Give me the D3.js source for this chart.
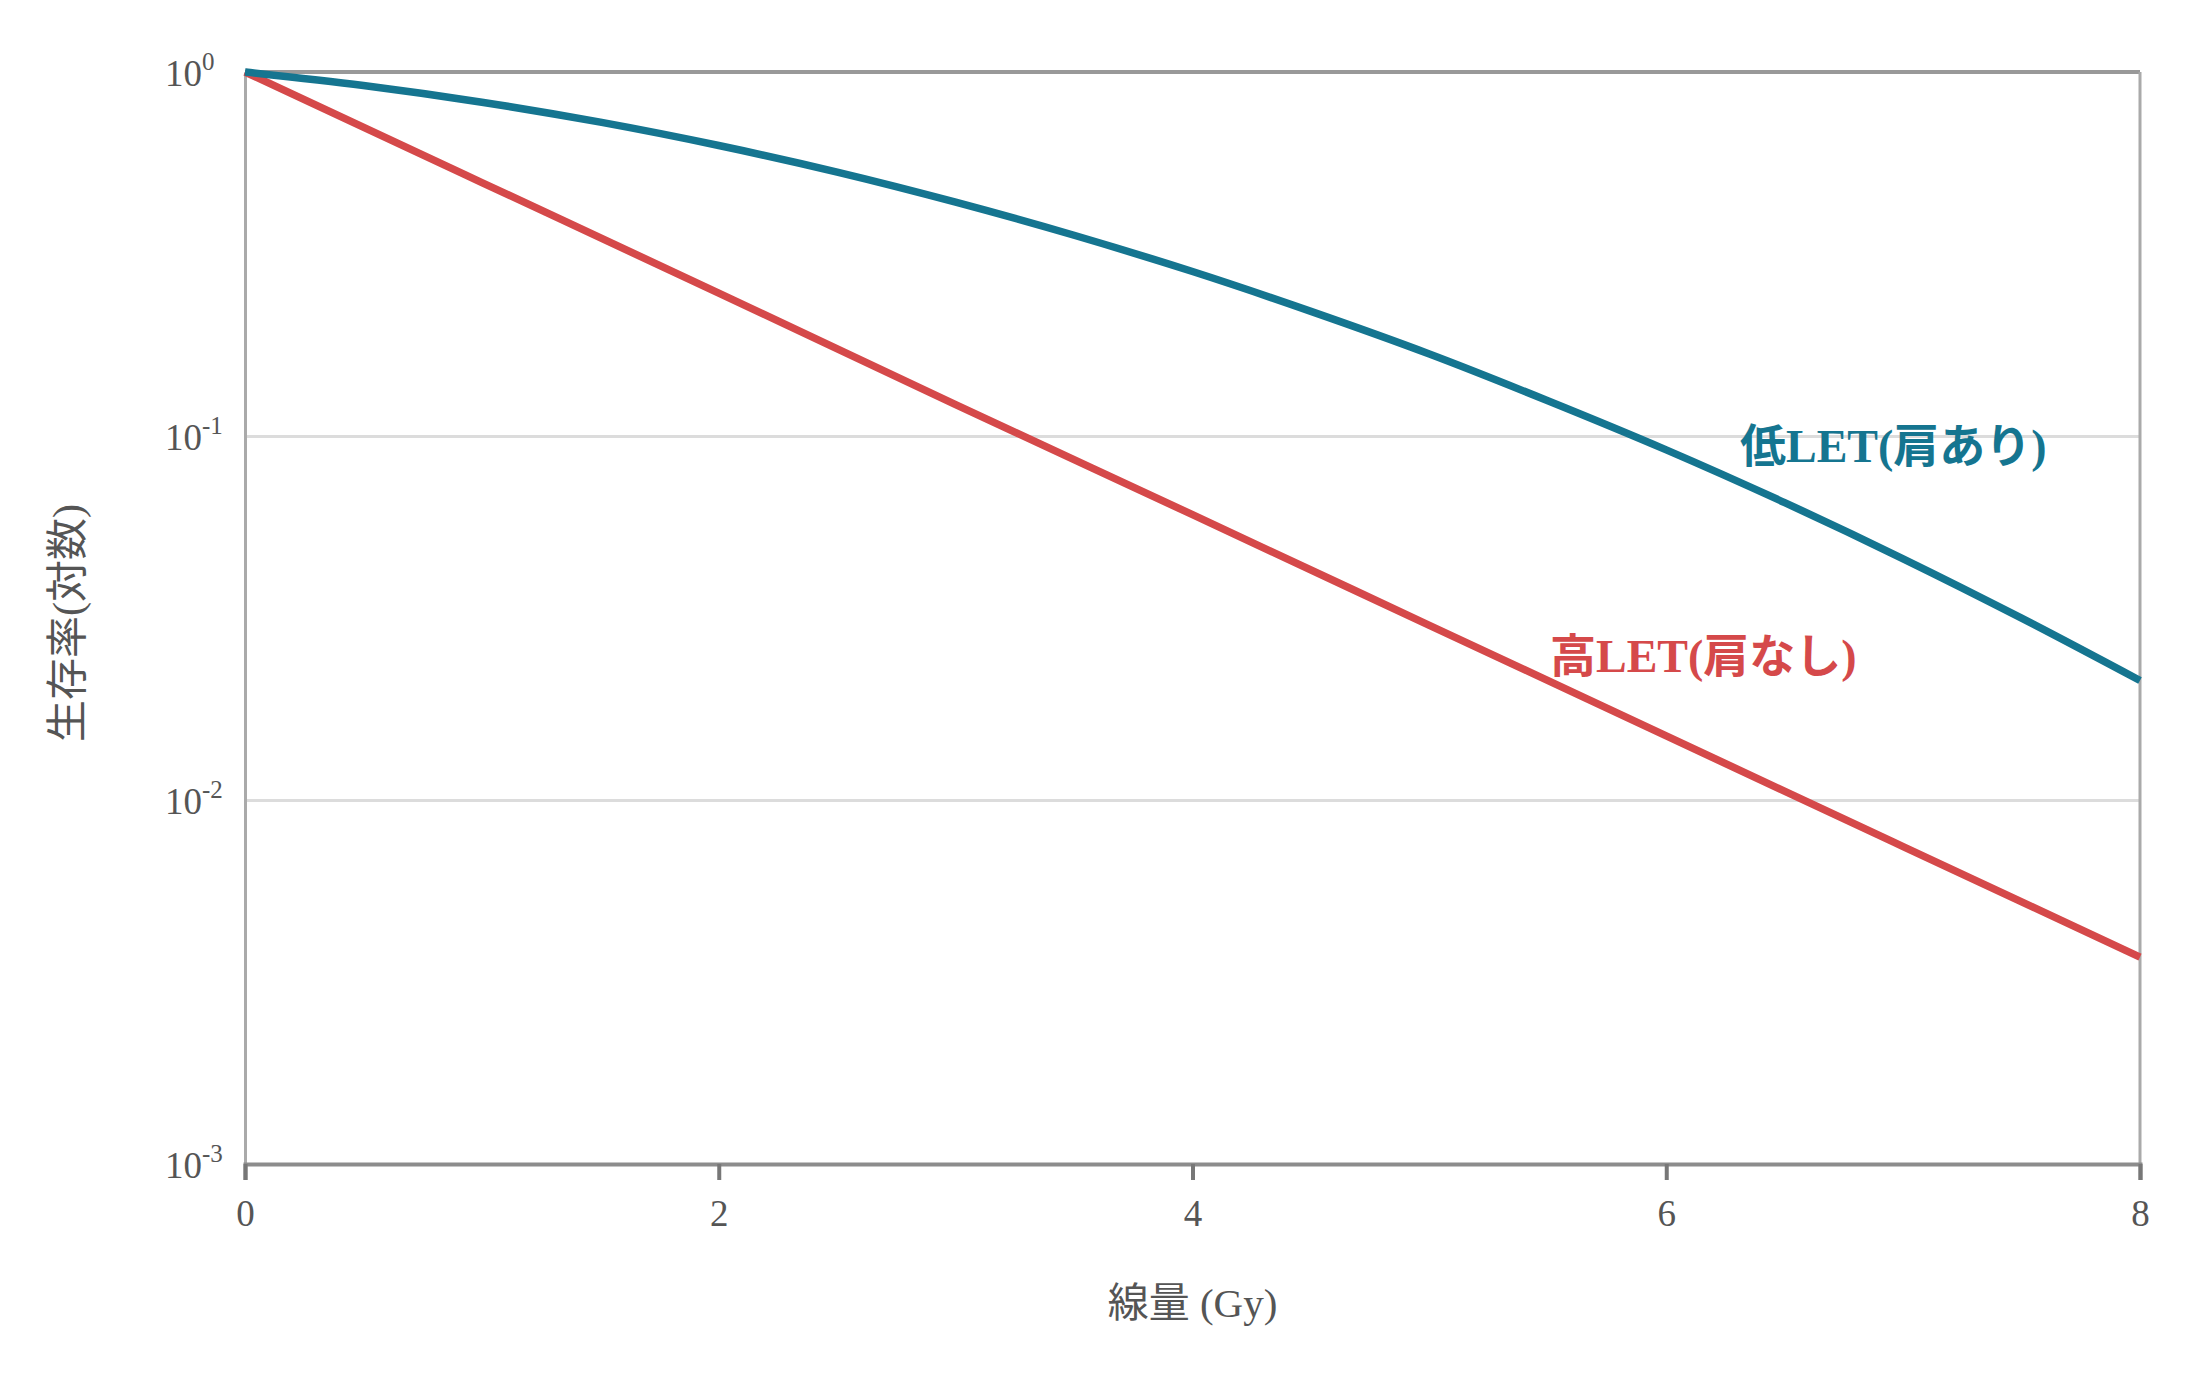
<!DOCTYPE html>
<html>
<head>
<meta charset="utf-8">
<script src="https://cdn.jsdelivr.net/npm/d3@7"></script>
<style>
  html, body { margin: 0; padding: 0; background: #fff; }
  svg { display: block; }
</style>
</head>
<body>
<svg id="chart" width="2196" height="1374"></svg>
<script>
// ---- data ----
const doseLow = [0, 0.5, 1, 1.5, 2, 2.5, 3, 3.5, 4, 4.5, 5, 5.5, 6, 6.5, 7, 7.5, 8];
const survivalLow = [1, 0.918, 0.826, 0.728, 0.628, 0.531, 0.439, 0.356, 0.283, 0.220, 0.168, 0.125, 0.0916, 0.0656, 0.0460, 0.0316, 0.0213];
const doseHigh = [0, 1, 2, 3, 4, 5, 6, 7, 8];
const survivalHigh = [1, 0.497, 0.247, 0.122, 0.0608, 0.0302, 0.0150, 0.00745, 0.0037];
const xTicks = [0, 2, 4, 6, 8];
const yTicks = [1, 0.1, 0.01, 0.001];
const yTickExponents = ["0", "-1", "-2", "-3"];
const seriesNames = ["低LET(肩あり)", "高LET(肩なし)"];
const xTitle = "線量 (Gy)";
const yTitle = "生存率(対数)";

const W = 2196, H = 1374;
const m = { left: 245, right: 2140, top: 72, bottom: 1164 };
const serif = "'Liberation Serif', 'Times New Roman', 'Noto Sans CJK JP', serif";
const colLow = "#157590", colHigh = "#d5494a", textCol = "#555";

const svg = d3.select("#chart");
const x = d3.scaleLinear().domain([0, 8]).range([m.left, m.right]);
const y = d3.scaleLog().domain([0.001, 1]).range([m.bottom, m.top]);

// gridlines
const grid = svg.append("g")
  .attr("transform", `translate(${m.left},0)`)
  .call(d3.axisLeft(y).tickValues([0.1, 0.01]).tickSize(-(m.right - m.left)).tickFormat(""));
grid.select(".domain").remove();
grid.selectAll(".tick line").attr("stroke", "#dcdcdc").attr("stroke-width", 3);

// frame lines: top and right
svg.append("line").attr("x1", m.left).attr("x2", m.right).attr("y1", y(1)).attr("y2", y(1))
  .attr("stroke", "#999").attr("stroke-width", 4);
svg.append("line").attr("x1", m.right).attr("x2", m.right).attr("y1", m.top).attr("y2", m.bottom)
  .attr("stroke", "#aaa").attr("stroke-width", 3);

// left axis
const yAxis = svg.append("g")
  .attr("transform", `translate(${m.left},0)`)
  .call(d3.axisLeft(y).tickValues(yTicks).tickSize(0).tickPadding(0).tickFormat(""));
yAxis.select(".domain").attr("stroke", "#aaa").attr("stroke-width", 3);
yAxis.selectAll(".tick").each(function(d, i) {
  const t = d3.select(this).append("text")
    .attr("x", -80).attr("y", 13)
    .attr("text-anchor", "start")
    .attr("fill", textCol)
    .style("font-family", serif).style("font-size", "37px");
  t.append("tspan").text("10");
  t.append("tspan").attr("dy", -16).style("font-size", "25px").text(yTickExponents[i]);
});

// bottom axis
const xAxis = svg.append("g")
  .attr("transform", `translate(0,${m.bottom})`)
  .call(d3.axisBottom(x).tickValues(xTicks).tickSize(16).tickPadding(20).tickFormat(d3.format("d")));
xAxis.select(".domain").attr("stroke", "#8c8c8c").attr("stroke-width", 4);
xAxis.selectAll(".tick line").attr("stroke", "#777").attr("stroke-width", 4);
xAxis.selectAll(".tick text").attr("fill", textCol)
  .style("font-family", serif).style("font-size", "37px");

// axis titles
svg.append("text").attr("x", (m.left + m.right) / 2).attr("y", 1317)
  .attr("text-anchor", "middle").attr("fill", textCol)
  .style("font-family", serif).style("font-size", "41px").text(xTitle);
svg.append("text").attr("transform", "translate(82,623) rotate(-90)")
  .attr("text-anchor", "middle").attr("fill", textCol)
  .style("font-family", serif).style("font-size", "42px").text(yTitle);

// lines
const line = d3.line().x(d => x(d[0])).y(d => y(d[1])).curve(d3.curveMonotoneX);
svg.append("path").datum(doseHigh.map((d, i) => [d, survivalHigh[i]]))
  .attr("d", line).attr("fill", "none").attr("stroke", colHigh).attr("stroke-width", 7.5);
svg.append("path").datum(doseLow.map((d, i) => [d, survivalLow[i]]))
  .attr("d", line).attr("fill", "none").attr("stroke", colLow).attr("stroke-width", 7.5);

// series labels
svg.append("text").attr("x", 1740).attr("y", 462).attr("fill", colLow)
  .style("font-family", serif).style("font-size", "46px").style("font-weight", "bold")
  .text(seriesNames[0]);
svg.append("text").attr("x", 1550).attr("y", 672).attr("fill", colHigh)
  .style("font-family", serif).style("font-size", "46px").style("font-weight", "bold")
  .text(seriesNames[1]);
</script>
</body>
</html>
